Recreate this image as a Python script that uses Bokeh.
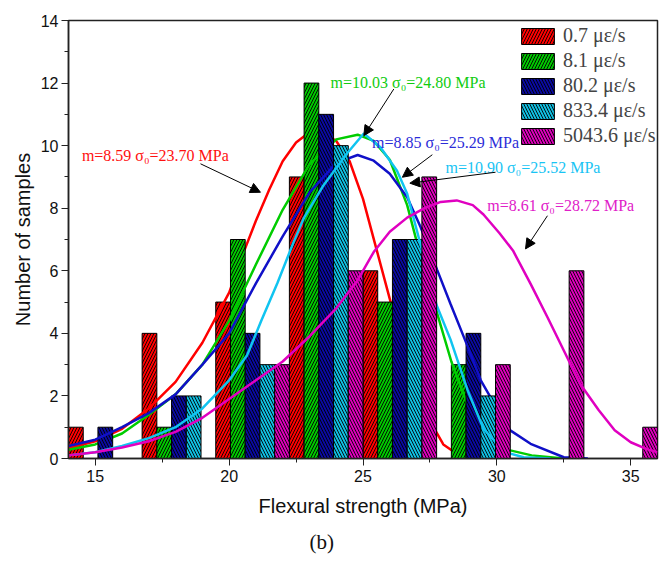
from bokeh.plotting import figure
from bokeh.embed import file_html
from bokeh.resources import INLINE
from bokeh.core.properties import value
from bokeh.models import (Range1d, SingleIntervalTicker, Legend, LegendItem, Arrow,
                          NormalHead, ColumnDataSource, Title)

# ---------------- data ----------------
bin_starts = [14.0, 16.75, 19.5, 22.25, 25.0, 27.75, 30.5, 33.25]
series_names = ["0.7 \u03bc\u03b5/s", "8.1 \u03bc\u03b5/s", "80.2 \u03bc\u03b5/s",
                "833.4 \u03bc\u03b5/s", "5043.6 \u03bc\u03b5/s"]
red_counts = [1, 4, 5, 9, 6, 0, 0, 0]
green_counts = [0, 1, 7, 12, 5, 3, 0, 0]
blue_counts = [1, 2, 4, 11, 7, 4, 0, 0]
cyan_counts = [0, 2, 3, 10, 7, 2, 0, 0]
magenta_counts = [0, 0, 3, 6, 9, 3, 6, 1]

red_fit_x = [14, 15, 16, 17, 18, 19, 20, 20.5, 21, 21.5, 22, 22.5, 23, 23.5, 24, 24.5, 25, 25.5,
             26, 26.5, 27, 27.5, 28, 28.5, 29, 30]
red_fit_y = [0.33, 0.55, 0.95, 1.6, 2.45, 3.7, 5.3, 6.5, 7.6, 8.6, 9.5, 10.1, 10.43, 10.4, 10.15,
             9.5, 8.3, 6.7, 5.1, 3.5, 2.1, 1.2, 0.45, 0.15, 0.05, 0.0]
green_fit_x = [14, 15, 16, 17, 18, 19, 20, 21, 22, 23, 24, 24.8, 25.4, 26, 26.65, 27.2, 27.8,
               28.3, 29, 29.5, 30, 30.5, 31.3, 32.5]
green_fit_y = [0.28, 0.45, 0.8, 1.4, 2.05, 3.0, 4.4, 6.2, 7.95, 9.4, 10.2, 10.35, 10.15, 9.55,
               8.1, 6.3, 4.55, 3.1, 1.5, 0.8, 0.45, 0.26, 0.1, 0.0]
blue_fit_x = [14, 15, 16, 17, 18, 19, 20, 21, 22, 23, 24, 24.8, 25.4, 26, 26.65, 27.15, 27.77,
              28.27, 28.9, 29.4, 30, 30.5, 31.26, 32.5, 33.4]
blue_fit_y = [0.4, 0.6, 1.0, 1.45, 2.05, 3.0, 4.0, 5.6, 7.1, 8.5, 9.45, 9.7, 9.52, 9.1, 8.35,
              7.4, 6.03, 4.94, 3.6, 2.5, 1.6, 0.9, 0.47, 0.04, 0.0]
cyan_fit_x = [14, 15, 16, 17, 18, 19, 20, 20.67, 21.2, 21.8, 22.4, 22.8, 23.5, 24.4, 25.03,
              25.65, 26.27, 26.65, 27.1, 27.75, 28.27, 28.9, 29.5, 30.3, 31.0, 32.0]
cyan_fit_y = [0.1, 0.2, 0.4, 0.65, 1.0, 1.6, 2.5, 3.3, 4.4, 5.6, 6.9, 7.7, 8.7, 9.75, 10.39,
              9.95, 9.2, 8.46, 7.0, 4.9, 3.8, 2.2, 0.95, 0.2, 0.04, 0.0]
magenta_fit_x = [14, 15, 16, 17, 18, 19, 20, 21, 22, 23, 24, 24.8, 25.4, 26, 26.65, 27.3, 27.9,
                 28.5, 29.1, 29.5, 30.1, 30.6, 31.26, 31.9, 32.5, 33.1, 33.8, 34.4, 35.0, 35.6, 36.0]
magenta_fit_y = [0.1, 0.2, 0.35, 0.55, 0.85, 1.3, 1.9, 2.5, 3.1, 3.9, 4.8, 5.7, 6.6, 7.25, 7.7,
                 8.0, 8.2, 8.25, 8.1, 7.8, 7.2, 6.65, 5.58, 4.5, 3.45, 2.4, 1.55, 0.9, 0.52, 0.3, 0.2]

fit_texts = ["m=8.59 \u03c3\u2080=23.70 MPa", "m=10.03 \u03c3\u2080=24.80 MPa",
             "m=8.85 \u03c3\u2080=25.29 MPa", "m=10.90 \u03c3\u2080=25.52 MPa",
             "m=8.61 \u03c3\u2080=28.72 MPa"]
fit_text_x = [14.50, 23.79, 25.34, 28.08, 29.64]
fit_text_y = [9.68, 12.02, 10.11, 9.31, 8.08]
arrow_x_start = [18.93, 26.15, 27.59, 29.95, 31.89]
arrow_y_start = [9.42, 11.81, 9.71, 9.15, 7.76]
arrow_x_end = [21.17, 25.03, 26.47, 26.75, 31.07]
arrow_y_end = [8.51, 10.32, 8.99, 8.80, 6.70]

# ---------------- styles ----------------
bar_w = 0.55
bar_colors = ["#FF0000", "#00C800", "#0A0AA0", "#10BEE0", "#DD00BB"]
line_colors = ["#FF0000", "#00CC00", "#1010C8", "#10C4F0", "#E000C0"]
text_colors = ["#FF1010", "#10CC10", "#2C2CD8", "#18C4F4", "#E020C8"]
hatches = ["/", "/", "\\", "\\", "\\"]

p = figure(width=665, height=562, output_backend="svg", toolbar_location=None,
           x_range=Range1d(14, 36), y_range=Range1d(0, 14),
           min_border_left=68, min_border_right=8, min_border_top=20, min_border_bottom=104)
p.xgrid.visible = False
p.ygrid.visible = False
p.outline_line_color = "#222222"
p.outline_line_width = 1.5
p.outline_line_alpha = 1.0

counts_all = [red_counts, green_counts, blue_counts, cyan_counts, magenta_counts]
fits = [(red_fit_x, red_fit_y), (green_fit_x, green_fit_y), (blue_fit_x, blue_fit_y),
        (cyan_fit_x, cyan_fit_y), (magenta_fit_x, magenta_fit_y)]

items = []
for i, counts in enumerate(counts_all):
    xs = [b + (i + 0.5) * bar_w for b, c in zip(bin_starts, counts) if c > 0]
    tops = [c for c in counts if c > 0]
    src = ColumnDataSource(dict(x=xs, top=tops))
    r = p.vbar(x="x", top="top", bottom=0, width=bar_w, source=src,
               fill_color=bar_colors[i], line_color="black", line_width=1,
               hatch_pattern=hatches[i], hatch_color="black", hatch_scale=6,
               hatch_weight=0.9)
    items.append(LegendItem(label=series_names[i], renderers=[r]))
    fx, fy = fits[i]
    p.line(fx, fy, line_color=line_colors[i], line_width=2.5)

# annotations
tsrc = ColumnDataSource(dict(x=fit_text_x, y=fit_text_y, text=fit_texts, color=text_colors))
p.text(x="x", y="y", text="text", text_color="color", source=tsrc,
       text_font=value("Liberation Serif"), text_font_size="16px",
       text_align="left", text_baseline="alphabetic")
asrc = ColumnDataSource(dict(xs=arrow_x_start, ys=arrow_y_start, xe=arrow_x_end, ye=arrow_y_end))
p.add_layout(Arrow(end=NormalHead(size=10, fill_color="black", line_color="black", line_width=1),
                   x_start="xs", y_start="ys", x_end="xe", y_end="ye", source=asrc,
                   line_color="black", line_width=1))

legend = Legend(items=items, location=(449, 311), padding=0, margin=0, spacing=2,
                glyph_width=41, glyph_height=20, label_height=20, label_standoff=5,
                label_text_font="Liberation Serif", label_text_font_size="20px",
                border_line_alpha=0, background_fill_alpha=0)
p.add_layout(legend)

# axes
p.xaxis.ticker = SingleIntervalTicker(interval=5, num_minor_ticks=2)
p.yaxis.ticker = SingleIntervalTicker(interval=2, num_minor_ticks=2)
for ax in (p.xaxis[0], p.yaxis[0]):
    ax.major_tick_in = 0
    ax.major_tick_out = 7
    ax.minor_tick_in = 0
    ax.minor_tick_out = 4
    ax.axis_line_color = "#222222"
    ax.axis_line_width = 1.5
    ax.major_tick_line_color = "#222222"
    ax.minor_tick_line_color = "#222222"
    ax.major_label_text_font = "Liberation Sans"
    ax.major_label_text_font_size = "16px"
    ax.major_label_text_color = "#111111"
    ax.axis_label_text_font = "Liberation Sans"
    ax.axis_label_text_font_size = "20px"
    ax.axis_label_text_font_style = "normal"
    ax.axis_label_text_color = "#111111"
p.xaxis.axis_label = "Flexural strength (MPa)"
p.yaxis.axis_label = "Number of samples"
p.xaxis.major_label_standoff = 4
p.xaxis.axis_label_standoff = 10
p.yaxis.major_label_standoff = 3
p.yaxis.axis_label_standoff = 4

p.add_layout(Title(text="(b)", align="left", offset=241, standoff=16,
                   text_font="Liberation Serif", text_font_size="21px",
                   text_font_style="normal", text_color="#111111"), "below")

open("out.html", "w").write(file_html(p, INLINE))
